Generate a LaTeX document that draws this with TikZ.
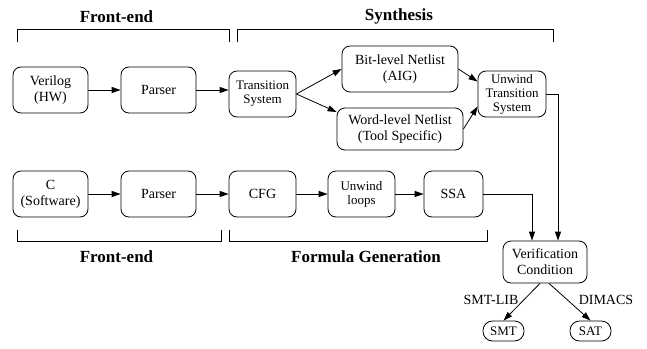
\documentclass[tikz,border=0pt]{standalone}
\usepackage{fontspec}
\setmainfont{Liberation Serif}
\newfontfamily\tms{Liberation Serif}
\usetikzlibrary{arrows.meta}
\begin{document}
\begin{tikzpicture}[x=1pt,y=-1pt,
 box/.style={draw,rounded corners=8pt,align=center,inner sep=0pt,line width=0.8pt,font=\tms\fontsize{14}{16}\selectfont},
 small/.style={font=\tms\fontsize{13}{14}\selectfont},
 pill/.style={draw,rounded corners=9.5pt,inner sep=0pt,line width=0.8pt,minimum width=41pt,minimum height=20pt,font=\tms\fontsize{13}{14}\selectfont},
 arr/.style={-{Triangle[length=9pt,width=6pt]},line width=0.8pt},
 ln/.style={line width=0.8pt},
 ttl/.style={font=\tms\fontsize{17}{20}\selectfont\bfseries},
 lbl/.style={font=\tms\fontsize{14}{16}\selectfont}]
\useasboundingbox (0,0) rectangle (647,348);
% top row
\node[box,minimum width=75pt,minimum height=46pt] (ver) at (50.5,90) {Verilog\\(HW)};
\node[box,minimum width=75pt,minimum height=46pt] (p1) at (158.5,90) {Parser};
\node[box,small,minimum width=67pt,minimum height=46pt] (ts) at (262.5,94) {Transition\\System};
\node[box,minimum width=116pt,minimum height=46pt] (bit) at (400,69) {Bit-level Netlist\\(AIG)};
\node[box,minimum width=126pt,minimum height=42pt] (word) at (400,129) {Word-level Netlist\\(Tool Specific)};
\node[box,small,minimum width=68pt,minimum height=46pt] (uw) at (512,94) {Unwind\\Transition\\System};
% bottom row
\node[box,minimum width=75pt,minimum height=46pt] (c) at (50.5,194) {C\\(Software)};
\node[box,minimum width=75pt,minimum height=46pt] (p2) at (158.5,194) {Parser};
\node[box,minimum width=67pt,minimum height=46pt] (cfg) at (262.5,194) {CFG};
\node[box,small,minimum width=67pt,minimum height=46pt] (ul) at (361.5,194) {Unwind\\loops};
\node[box,minimum width=59pt,minimum height=46pt] (ssa) at (453.5,194) {SSA};
\node[box,minimum width=84pt,minimum height=42pt] (vc) at (545,262) {Verification\\Condition};
\node[pill] (smt) at (503.5,331) {SMT};
\node[pill] (sat) at (590.5,331) {SAT};
% brackets and titles
\draw[ln] (17,42) -- (17,29) -- (229,29) -- (229,42);
\node[ttl] (t1) at (116.5,17) {Front-end};
\draw[ln] (237,42) -- (237,29) -- (553,29) -- (553,42);
\node[ttl] (t2) at (399,16) {Synthesis};
\draw[ln] (17,230) -- (17,241) -- (221,241) -- (221,230);
\node[ttl] (t3) at (116.5,257) {Front-end};
\draw[ln] (229,230) -- (229,241) -- (487,241) -- (487,230);
\node[ttl] (t4) at (366,257) {Formula Generation};
% arrows
\draw[arr] (ver) -- (p1);
\draw[arr] (p1.east) -- (p1.east -| ts.west);
\draw[arr] (ts.east) -- (bit.west);
\draw[arr] (ts.east) -- (word.165);
\draw[arr] (bit.east) -- (uw.160);
\draw[arr] (word.east) -- (uw.200);
\draw[arr] (c) -- (p2);
\draw[arr] (p2) -- (cfg);
\draw[arr] (cfg) -- (ul);
\draw[arr] (ul) -- (ssa);
\draw[arr] (ssa.east) -| ([xshift=-13pt]vc.north);
\draw[arr] (uw.east) -| ([xshift=13pt]vc.north);
\draw[arr] ([xshift=-5pt]vc.south) -- (smt.north);
\draw[arr] ([xshift=4pt]vc.south) -- (sat.north);
\node[lbl] (l1) at (491,300) {SMT-LIB};
\node[lbl] (l2) at (606,300) {DIMACS};
\end{tikzpicture}
\end{document}
